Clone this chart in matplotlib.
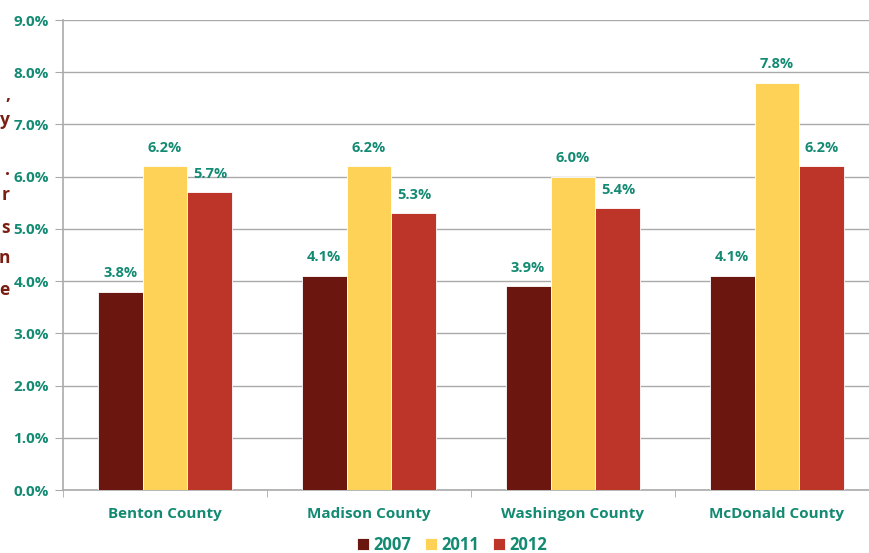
import numpy as np
import matplotlib.pyplot as plt
from matplotlib.ticker import PercentFormatter

counties = ['Benton County', 'Madison County', 'Washingon County', 'McDonald County']
years = ['2007', '2011', '2012']
rate_2007 = [3.8, 4.1, 3.9, 4.1]
rate_2011 = [6.2, 6.2, 6.0, 7.8]
rate_2012 = [5.7, 5.3, 5.4, 6.2]

colors = ['#6B1710', '#FDD257', '#BD3428']
teal = '#138A72'
grid_gray = '#AAAAAA'

plt.rcParams['font.family'] = ['Open Sans', 'DejaVu Sans']

fig = plt.figure(figsize=(8.7, 5.53), dpi=100)
ax = fig.add_axes([63 / 870, 1 - 490 / 553, 816 / 870, 470 / 553])

x = np.arange(len(counties))
w = 0.22
series = [rate_2007, rate_2011, rate_2012]
for i, (vals, c, yr) in enumerate(zip(series, colors, years)):
    pos = x + (i - 1) * w
    bars = ax.bar(pos, vals, width=w, color=c, edgecolor='white', linewidth=0.6,
                  label=yr, zorder=3)
    for b, v in zip(bars, vals):
        ax.text(b.get_x() + b.get_width() / 2, v + 0.22, f'{v:.1f}%',
                ha='center', va='bottom', color=teal, fontsize=10.5,
                fontweight='bold', zorder=4)

ax.set_xlim(-0.5, len(counties) - 0.5)
ax.set_ylim(0, 9)
ax.set_yticks(np.arange(0, 9.1, 1))
ax.yaxis.set_major_formatter(PercentFormatter(decimals=1))
ax.grid(axis='y', color=grid_gray, linewidth=1, zorder=0)

ax.set_xticks(x)
ax.set_xticklabels(counties)
ax.set_xticks(np.arange(-0.5, len(counties)), minor=True)
ax.tick_params(axis='x', which='major', length=0, pad=12)
ax.tick_params(axis='x', which='minor', length=5, color=grid_gray, direction='out')
ax.tick_params(axis='y', length=6, color=grid_gray, pad=4)

for lab in ax.get_xticklabels() + ax.get_yticklabels():
    lab.set_color(teal)
    lab.set_fontweight('bold')
    lab.set_fontsize(11)

for s in ['top', 'right']:
    ax.spines[s].set_visible(False)
for s in ['left', 'bottom']:
    ax.spines[s].set_color(grid_gray)
    ax.spines[s].set_linewidth(1.2)

leg = fig.legend(loc='center', bbox_to_anchor=(452 / 870, 1 - 545 / 553), ncol=3,
                 frameon=False, handlelength=0.75, handleheight=0.75,
                 handletextpad=0.25, columnspacing=0.8, fontsize=12)
for t in leg.get_texts():
    t.set_color(teal)
    t.set_fontweight('bold')

# side caption fragments at the left edge
side_chars = [',', 'y', '.', 'r', 's', 'n', 'e']
side_y = [95, 120, 170, 195, 228, 258, 290]
for ch, yy in zip(side_chars, side_y):
    fig.text(10 / 870, 1 - yy / 553, ch, ha='right', va='center',
             color='#7A1E12', fontsize=12.5, fontweight='bold')

fig.savefig('out.png', dpi=100)
